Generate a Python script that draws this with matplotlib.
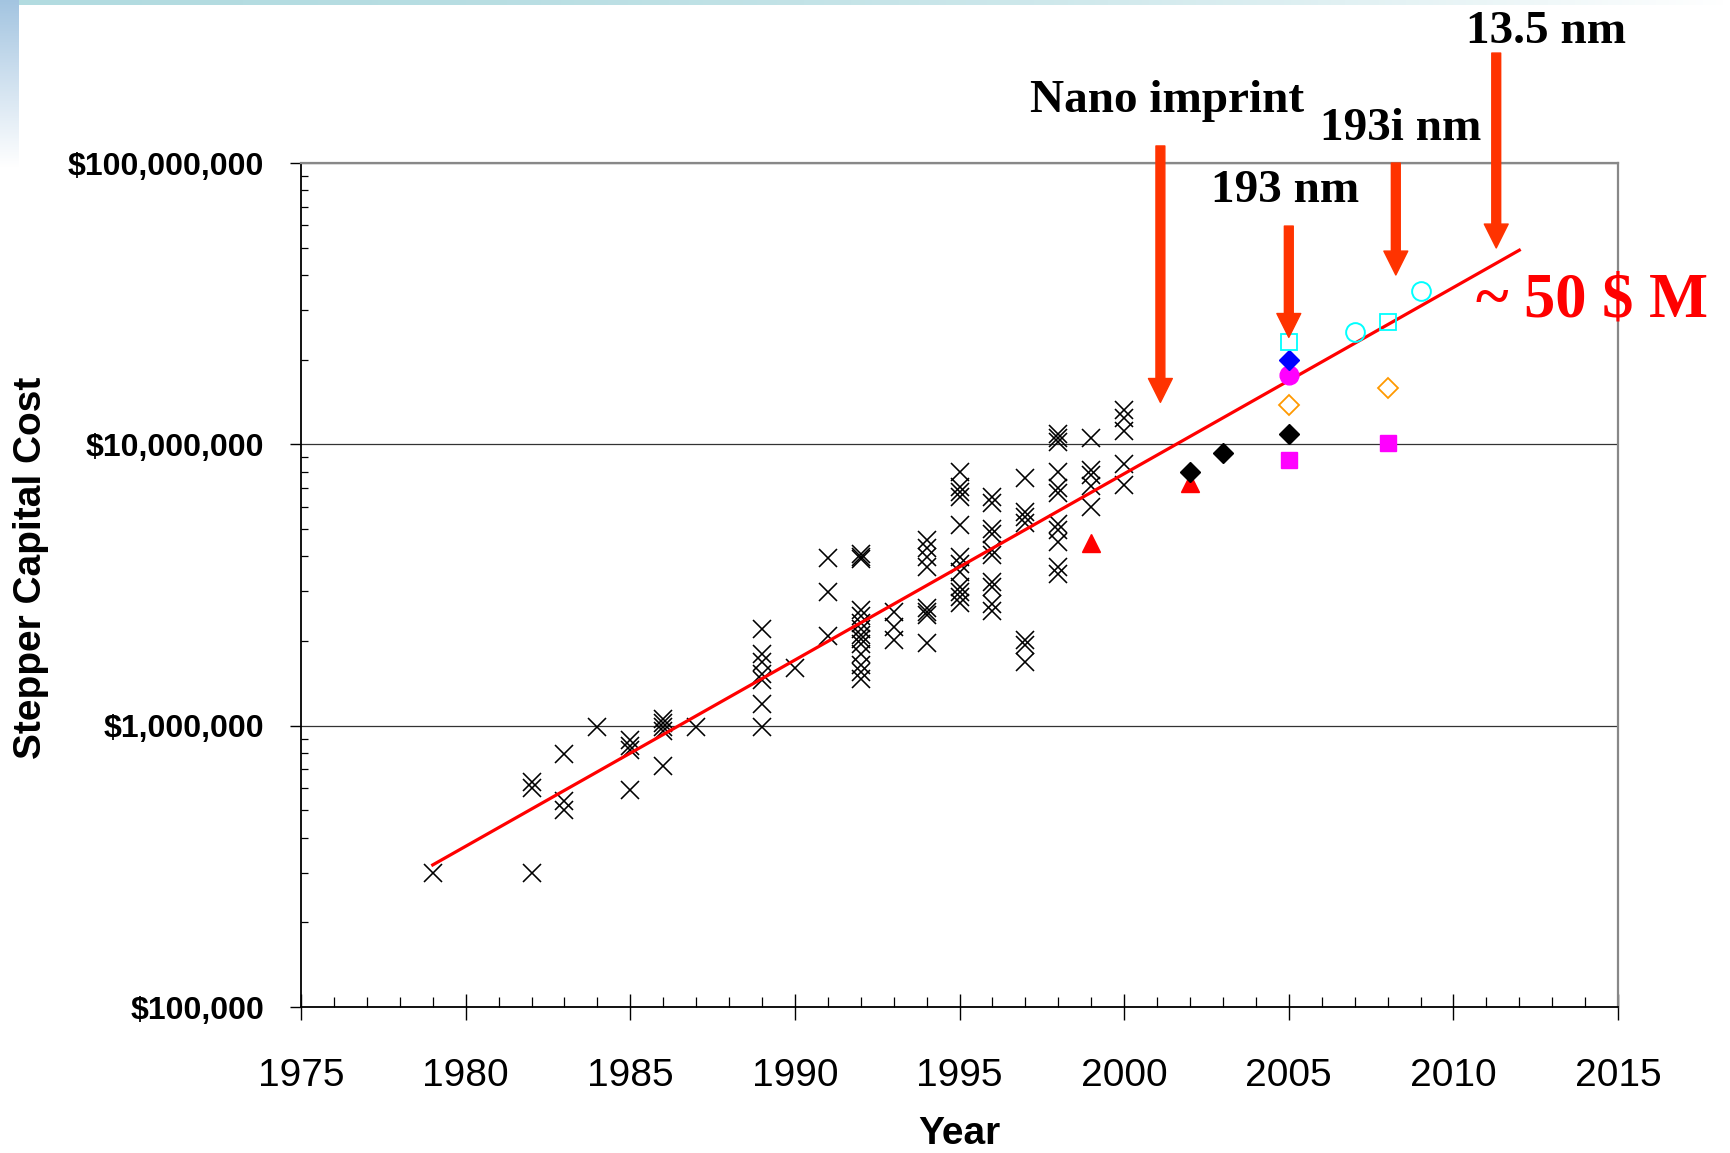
import numpy as np
import matplotlib.pyplot as plt
from matplotlib.ticker import LogLocator, NullFormatter

# stepper price survey, $M, one list of prices per year
stepper_years = [1979, 1982, 1983, 1984, 1985, 1986, 1987, 1989, 1990, 1991,
                 1992, 1993, 1994, 1995, 1996, 1997, 1998, 1999, 2000]
stepper_costs = [
    [0.30],
    [0.63, 0.60, 0.30],
    [0.79, 0.54, 0.50],
    [0.99],
    [0.89, 0.85, 0.82, 0.59],
    [1.06, 1.02, 0.99, 0.96, 0.72],
    [0.99],
    [2.2, 1.8, 1.69, 1.53, 1.45, 1.19, 0.99],
    [1.6],
    [3.94, 2.98, 2.08],
    [4.07, 3.99, 3.90, 2.58, 2.45, 2.32, 2.2, 2.1, 2.03, 1.95, 1.8, 1.65, 1.55, 1.47],
    [2.54, 2.25, 2.01],
    [4.57, 4.27, 3.98, 3.67, 2.61, 2.54, 2.47, 1.96],
    [8.0, 7.07, 6.79, 6.52, 5.16, 3.98, 3.77, 3.52, 3.12, 2.99, 2.87, 2.72],
    [6.5, 6.2, 5.0, 4.8, 4.2, 4.05, 3.25, 3.1, 2.7, 2.55],
    [7.57, 5.76, 5.53, 5.24, 2.01, 1.94, 1.69],
    [10.9, 10.5, 10.2, 8.0, 7.0, 6.7, 5.2, 4.95, 4.5, 3.67, 3.45],
    [10.5, 8.1, 7.8, 7.1, 6.0],
    [13.2, 12.4, 11.2, 8.55, 7.2],
]

# newer tools ($M)
tri_years = [1999, 2002]
tri_costs = [4.45, 7.3]
blk_dia_years = [2002, 2003, 2005]
blk_dia_costs = [8.0, 9.35, 10.9]
mag_sq_years = [2005, 2008]
mag_sq_costs = [8.8, 10.1]
org_dia_years = [2005, 2008]
org_dia_costs = [13.8, 15.9]
mag_circ_years = [2005]
mag_circ_costs = [17.6]
blue_dia_years = [2005]
blue_dia_costs = [19.9]
cyan_sq_years = [2005, 2008]
cyan_sq_costs = [23.1, 27.2]
cyan_circ_years = [2007, 2009]
cyan_circ_costs = [25.1, 35.1]

# exponential trend line ($M)
trend_years = [1979, 2012]
trend_costs = [0.32, 49.0]

# technology arrows: year they point at and cost at the arrow tip ($M)
arrow_labels = ['Nano imprint', '193 nm', '193i nm', '13.5 nm']
arrow_years = [2001.1, 2005.0, 2008.25, 2011.3]
arrow_tips = [14.1, 24.0, 40.0, 49.9]

x_ticks = [1975, 1980, 1985, 1990, 1995, 2000, 2005, 2010, 2015]
y_ticks = [1e5, 1e6, 1e7, 1e8]
y_tick_labels = ['$100,000', '$1,000,000', '$10,000,000', '$100,000,000']

M = 1e6
arrow_color = '#FF3300'
serif = 'Liberation Serif'

plt.rcParams['font.family'] = 'Liberation Sans'
fig = plt.figure(figsize=(17.3, 11.53), dpi=100)

# slide decoration: gradient bars along the top and left edges
bg = fig.add_axes([0, 0, 1, 1], zorder=-5)
bg.set_xlim(0, 1730)
bg.set_ylim(1153, 0)
bg.axis('off')
t = np.linspace(0, 1, 256)[:, None]
c_top = np.array([0.70, 0.86, 0.88])
c_left = np.array([0.64, 0.77, 0.88])
bg.imshow((c_top + (1 - c_top) * t ** 2)[None, :, :], extent=[0, 1730, 5, 0], aspect='auto')
bg.imshow((c_left + (1 - c_left) * t)[:, None, :], extent=[0, 19, 167, 0], aspect='auto')

ax = fig.add_axes([0.174, 0.1266, 0.7613, 0.732])
ax.set_yscale('log')

xs = [yr for yr, costs in zip(stepper_years, stepper_costs) for _ in costs]
ys = [c * M for costs in stepper_costs for c in costs]
ax.plot(xs, ys, ls='none', marker='x', ms=12.5, mew=1.15, color='black', zorder=3)

ax.plot(trend_years, np.array(trend_costs) * M, color='red', lw=2.3, zorder=4)

ax.plot(tri_years, np.array(tri_costs) * M, ls='none', marker='^', ms=13, color='red', zorder=5)
ax.plot(blk_dia_years, np.array(blk_dia_costs) * M, ls='none', marker='D', ms=10.5, color='black', zorder=5)
ax.plot(mag_sq_years, np.array(mag_sq_costs) * M, ls='none', marker='s', ms=11.5, color='#FF00FF', zorder=5)
ax.plot(org_dia_years, np.array(org_dia_costs) * M, ls='none', marker='D', ms=10, mfc='none',
        mec='#FF9900', mew=1.3, zorder=5)
ax.plot(mag_circ_years, np.array(mag_circ_costs) * M, ls='none', marker='o', ms=13.5, color='#FF00FF', zorder=5)
ax.plot(blue_dia_years, np.array(blue_dia_costs) * M, ls='none', marker='D', ms=10.5, color='#0000FF', zorder=5)
ax.plot(cyan_sq_years, np.array(cyan_sq_costs) * M, ls='none', marker='s', ms=11, mfc='none',
        mec='#00FFFF', mew=1.3, zorder=5)
ax.plot(cyan_circ_years, np.array(cyan_circ_costs) * M, ls='none', marker='o', ms=13.5, mfc='none',
        mec='#00FFFF', mew=1.4, zorder=5)

ax.set_xlim(1975, 2015)
ax.set_ylim(1e5, 1e8)

ax.set_xticks(x_ticks)
ax.set_xticks(np.arange(1975, 2016), minor=True)
ax.tick_params(axis='x', which='major', direction='inout', length=19, width=1, labelsize=28, pad=27)
ax.tick_params(axis='x', which='minor', direction='in', length=7, width=0.9)

ax.set_yticks(y_ticks, labels=y_tick_labels, fontsize=23, fontweight='bold')
ax.yaxis.set_minor_locator(LogLocator(base=10, subs=np.arange(2, 10)))
ax.yaxis.set_minor_formatter(NullFormatter())
ax.tick_params(axis='y', which='major', direction='out', length=8, width=1, pad=18.5)
ax.tick_params(axis='y', which='minor', direction='in', length=5, width=0.9)

ax.grid(axis='y', which='major', color='#333333', lw=0.9)
for side in ['left', 'bottom']:
    ax.spines[side].set_color('black')
    ax.spines[side].set_linewidth(1.3)
for side in ['top', 'right']:
    ax.spines[side].set_color('#888888')
    ax.spines[side].set_linewidth(1.6)

ax.set_ylabel('Stepper Capital Cost', fontsize=28, fontweight='bold')
ax.yaxis.set_label_coords(-0.191, 0.52)
ax.set_xlabel('Year', fontsize=28, fontweight='bold')
ax.xaxis.set_label_coords(0.5, -0.129)

# arrows and their labels (tail ends and label spots are layout only)
arrow_tails = [115, 59.7, 100, 246]
label_x = [2001.3, 2004.9, 2008.4, 2012.8]
label_y = [152, 72.7, 121, 267]
label_size = [34, 34, 34, 34]
for i in range(len(arrow_labels)):
    ax.annotate('', xy=(arrow_years[i], arrow_tips[i] * M),
                xytext=(arrow_years[i], arrow_tails[i] * M),
                arrowprops=dict(arrowstyle='simple,head_length=0.86,head_width=0.86,tail_width=0.32',
                                color=arrow_color, shrinkA=0, shrinkB=0, mutation_scale=20),
                annotation_clip=False, zorder=6)
    ax.text(label_x[i], label_y[i] * M, arrow_labels[i], ha='center', va='baseline',
            fontsize=label_size[i], fontweight='bold', family=serif, clip_on=False)

ax.text(2014.2, 28.4 * M, '~ 50 $ M', ha='center', va='baseline', color='red',
        fontsize=45, fontweight='bold', family=serif, clip_on=False)

plt.savefig('out.png', dpi=100)
